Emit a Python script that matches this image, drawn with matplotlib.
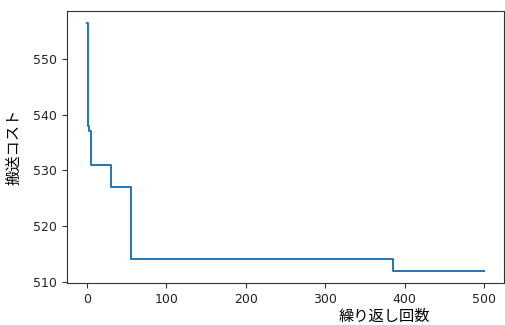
import matplotlib
matplotlib.use("Agg")
import matplotlib.pyplot as plt
import numpy as np

plt.rcParams['font.family'] = ['Noto Sans CJK JP', 'DejaVu Sans']

# best-so-far cost at iterations where it changes (step curve)
iterations = [0, 1, 2, 3, 5, 31, 56, 385, 500]
costs = [556.4, 541.0, 538.0, 537.0, 531.0, 527.0, 514.0, 512.0, 512.0]

fig = plt.figure(figsize=(5.06, 3.25), dpi=100)
ax = fig.add_axes([67/506, 1 - 283/325, 437/506, 272/325])
ax.plot(iterations, costs, drawstyle='steps-post', color='#1f77b4', linewidth=1.4)
ax.set_yticks([510, 520, 530, 540, 550])
ax.set_xticks([0, 100, 200, 300, 400, 500])
ax.tick_params(labelsize=9, colors='#333333', labelcolor='#222222')
for lbl in ax.get_xticklabels() + ax.get_yticklabels():
    lbl.set_family('DejaVu Sans')
ax.set_ylabel('搬送コスト', fontsize=11)
ax.yaxis.set_label_coords(-0.103, 0.5)
ax.set_xlabel('繰り返し回数', fontsize=11)
ax.xaxis.set_label_coords(0.725, -0.09)
for s in ax.spines.values():
    s.set_color('#333333')
fig.savefig('out.png', dpi=100)
